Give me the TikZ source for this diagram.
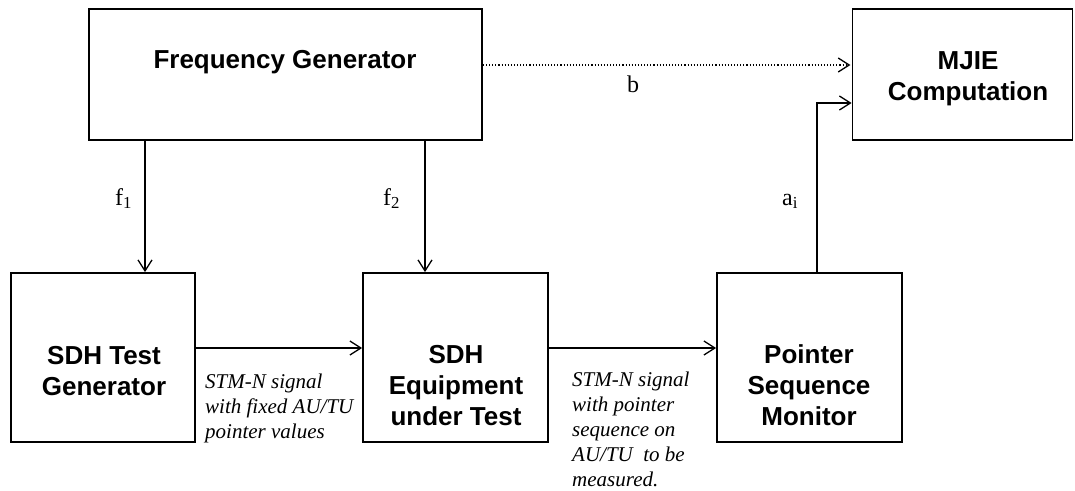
\documentclass[tikz,border=0pt]{standalone}
\usepackage{fontspec}
\setmainfont{Liberation Serif}
\setsansfont{Liberation Sans}
\usetikzlibrary{arrows.meta}
\begin{document}
\begin{tikzpicture}[x=1pt,y=-1pt,
  box/.style={draw, line width=1.8pt, minimum height=131pt, inner sep=0pt},
  lbox/.style={draw, line width=1.8pt, minimum width=185pt, minimum height=169pt, inner sep=0pt},
  btxt/.style={font=\sffamily\bfseries\fontsize{26}{31}\selectfont, align=center, inner sep=0pt, anchor=base},
  note/.style={font=\itshape\fontsize{21}{25}\selectfont, align=left, inner sep=0pt, anchor=base west},
  lab/.style={font=\fontsize{24}{28}\selectfont, inner sep=0pt, anchor=base west},
  arr/.style={line width=1.3pt, -{Straight Barb[length=11pt,width=14pt,line width=1.3pt]}},
  darr/.style={line width=1.1pt, dotted, -{Straight Barb[length=11pt,width=14pt,line width=1.3pt,sep]}}
]
\useasboundingbox (0,0) rectangle (1075,490);
% boxes
\node[box, minimum width=393pt] (FG) at (285.5,74.5) {};
\node[box, minimum width=220pt] (MJIE) at (962.5,74.5) {};
\node[lbox, minimum width=184pt] (STG) at (103,357.5) {};
\node[lbox] (SUT) at (455.5,357.5) {};
\node[lbox] (PSM) at (809.5,357.5) {};
% box texts (anchor base = last line)
\node[btxt] (FGt) at (285,68) {Frequency Generator};
\node[btxt] (MJIEt) at (968,100) {MJIE\\Computation};
\node[btxt] (STGt) at (104,395) {SDH Test\\Generator};
\node[btxt] (SUTt) at (456,425) {SDH\\Equipment\\under Test};
\node[btxt] (PSMt) at (809,425) {Pointer\\Sequence\\Monitor};
% connectors
\draw[arr] (145,0 |- FG.south) -- (145,0 |- STG.north);
\draw[arr] (425,0 |- FG.south) -- (425,0 |- SUT.north);
\draw[arr] (STG.east |- 0,348) -- (SUT.west |- 0,348);
\draw[arr] (SUT.east |- 0,348) -- (PSM.west |- 0,348);
\draw[arr] (817,0 |- PSM.north) |- (MJIE.west |- 0,103);
\draw[darr] (FG.east |- 0,65) -- (MJIE.west |- 0,65);
% labels
\node[lab] (f1) at (115,205) {f\textsubscript{1}};
\node[lab] (f2) at (383,205) {f\textsubscript{2}};
\node[lab] (b) at (627,92) {b};
\node[lab] (ai) at (782,205) {a\textsubscript{i}};
\node[note] (n1) at (205,438) {STM-N signal\\with fixed AU/TU\\pointer values};
\node[note] (n2) at (572,486) {STM-N signal\\with pointer\\sequence on\\AU/TU\ \ to be\\measured.};
\end{tikzpicture}
\end{document}
